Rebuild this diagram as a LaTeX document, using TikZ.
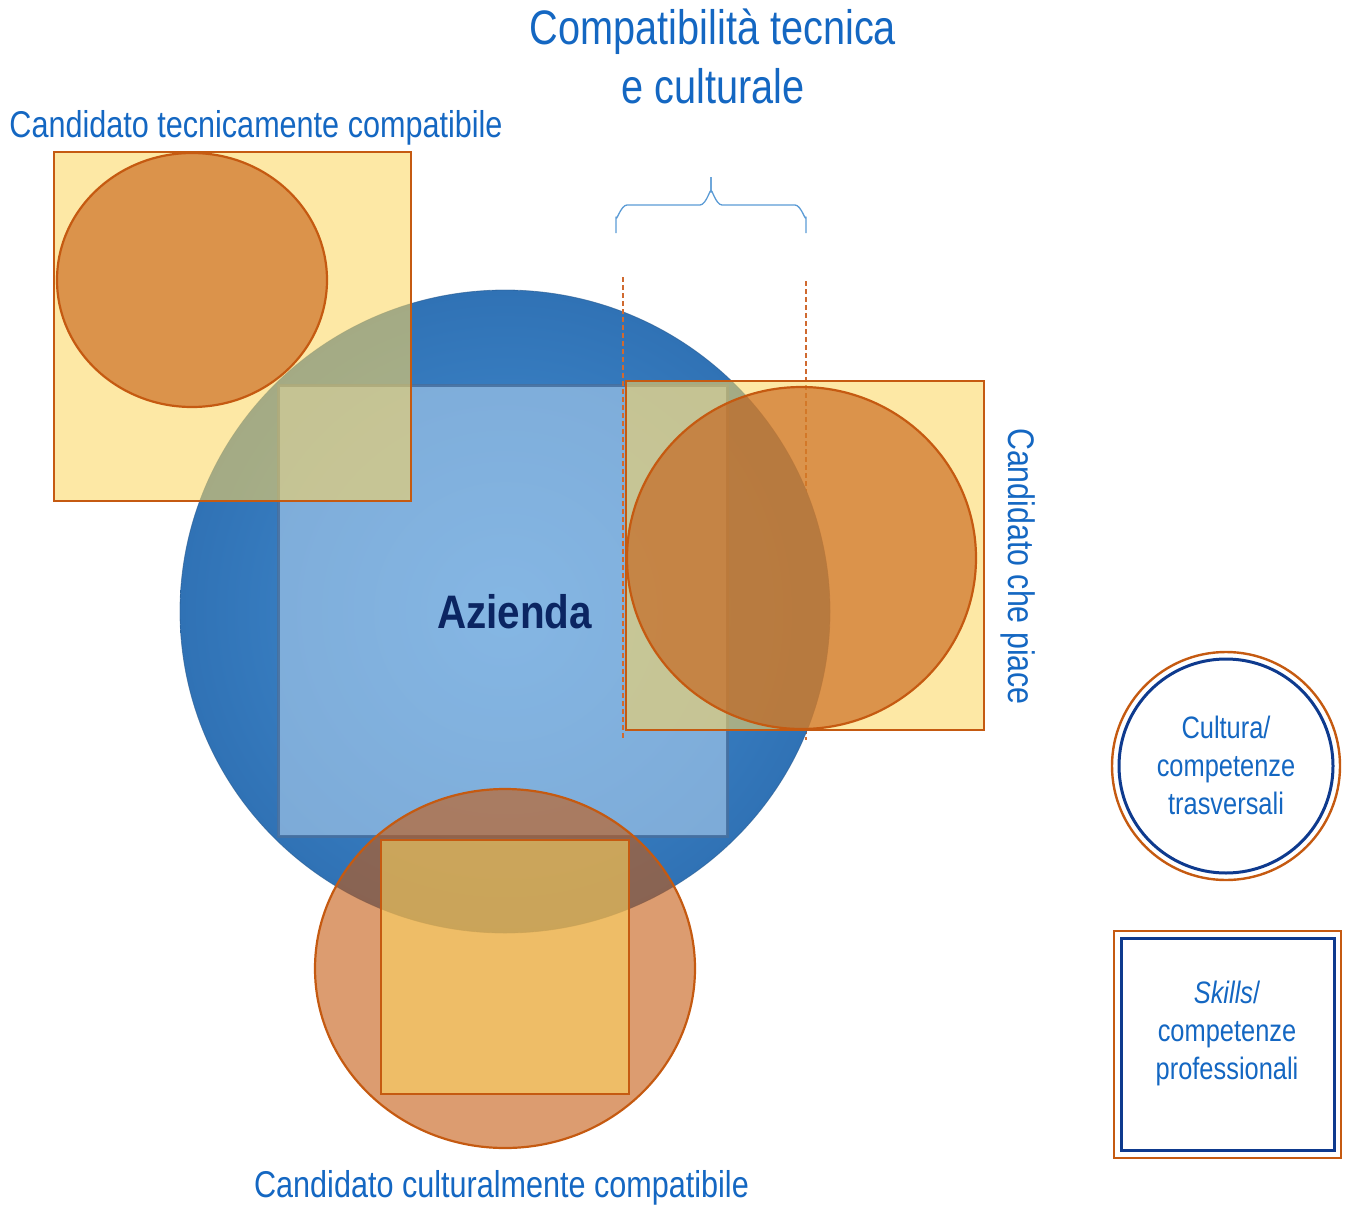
\documentclass[tikz,border=0pt]{standalone}
\usepackage{fontspec}
\setmainfont[FakeStretch=0.82]{Liberation Sans}
\newfontfamily\azfont[FakeStretch=0.86]{Liberation Sans}
\definecolor{txtblue}{HTML}{1467C2}
\definecolor{navy}{HTML}{0B2562}
\definecolor{legnavy}{HTML}{0E3A8E}
\definecolor{orng}{HTML}{C55A11}
\definecolor{yel}{HTML}{FCD660}
\definecolor{bluein}{HTML}{4591D5}
\definecolor{blueout}{HTML}{3072B5}
\definecolor{sqblue}{HTML}{B0D0EE}
\definecolor{sqedge}{HTML}{4670A0}
\definecolor{bracecol}{HTML}{5B9BD5}
\definecolor{dashcol}{HTML}{D06A30}
\tikzset{
  ysq/.style={fill=yel, fill opacity=0.57, draw=orng, draw opacity=1, line width=2.2pt},
  ocirc/.style={fill=orng, fill opacity=0.6, draw=orng, draw opacity=1, line width=2.2pt},
  guide/.style={draw=dashcol, line width=1.1pt, dash pattern=on 5pt off 3pt},
  bracestyle/.style={draw=bracecol, line width=1.3pt, line join=round},
  lab/.style={text=txtblue, inner sep=0pt},
}
\begin{document}
\begin{tikzpicture}[x=1pt,y=-1pt]
\useasboundingbox (0,0) rectangle (1351,1204);
% right guide line (beneath the company circle)
\coordinate (g2a) at (806,281);
\coordinate (g2b) at (806,740);
\draw[guide] (g2a) -- (g2b);
% company circle
\shade[inner color=bluein, outer color=blueout] (505,611.5) ellipse [x radius=325pt, y radius=321.5pt];
\draw[blueout!80!black, line width=0.8pt, opacity=0.6] (505,611.5) ellipse [x radius=325pt, y radius=321.5pt];
% inner light square
\fill[sqblue, fill opacity=0.6] (278,385) rectangle (727,836);
\draw[sqedge, line width=3pt, opacity=0.9] (278,385) rectangle (727,836);
% left guide line
\coordinate (g1a) at (623,277);
\coordinate (g1b) at (623,740);
\draw[guide] (g1a) -- (g1b);
% top-left candidate
\draw[ysq] (54,152) rectangle (411,501);
\draw[ocirc] (192,280) ellipse [x radius=135pt, y radius=127pt];
% right candidate
\draw[ysq] (626,381) rectangle (984,730);
\draw[ocirc] (801.5,558) ellipse [x radius=174.5pt, y radius=171pt];
% bottom candidate
\draw[ocirc] (505,968.5) ellipse [x radius=190pt, y radius=179.5pt];
\draw[ysq] (381,840) rectangle (629,1094);
% brace
\coordinate (bl) at (616,233);
\coordinate (br) at (806,233);
\coordinate (bt) at (711,177);
\draw[bracestyle] (bl) -- (616,217) to[out=-90,in=180] (627,205) -- (700,205)
  to[out=0,in=90] (711,192) -- (bt);
\draw[bracestyle] (bt) -- (711,192) to[out=90,in=180] (722,205) -- (795,205)
  to[out=0,in=-90] (806,217) -- (br);
% texts
\node[lab, anchor=base, font=\fontsize{48.4}{58}\selectfont] (t1) at (713,45) {Compatibilità tecnica};
\node[lab, anchor=base, font=\fontsize{48.4}{58}\selectfont] (t2) at (713,103) {e culturale};
\node[lab, anchor=base, font=\fontsize{37.3}{44}\selectfont] (ltec) at (256,138) {Candidato tecnicamente compatibile};
\node[lab, anchor=base, font=\fontsize{37.3}{44}\selectfont] (lcul) at (501.5,1197) {Candidato culturalmente compatibile};
\node[lab, anchor=base, rotate=-90, font=\fontsize{37}{44}\selectfont] (lpia) at (1008,566.5) {Candidato che piace};
\node[text=navy, inner sep=0pt, anchor=base, font=\azfont\bfseries\fontsize{47}{54}\selectfont] (az) at (514.5,628) {Azienda};
% legend circle
\draw[orng, line width=2.4pt] (1226,766) circle [radius=114pt];
\draw[legnavy, line width=3pt] (1226,766) circle [radius=107pt];
\node[lab, anchor=base, font=\fontsize{31}{38}\selectfont] (c1) at (1226,738) {Cultura/};
\node[lab, anchor=base, font=\fontsize{31}{38}\selectfont] (c2) at (1226,776) {competenze};
\node[lab, anchor=base, font=\fontsize{31}{38}\selectfont] (c3) at (1226,814) {trasversali};
% legend square
\draw[orng, line width=2.4pt] (1114,931) rectangle (1341,1158);
\draw[legnavy, line width=3pt] (1121,938) rectangle (1334,1150);
\node[lab, anchor=base, font=\fontsize{31}{38}\selectfont] (s1) at (1227,1003) {\textit{Skills}/};
\node[lab, anchor=base, font=\fontsize{31}{38}\selectfont] (s2) at (1227,1041) {competenze};
\node[lab, anchor=base, font=\fontsize{31}{38}\selectfont] (s3) at (1227,1079) {professionali};
\end{tikzpicture}
\end{document}
